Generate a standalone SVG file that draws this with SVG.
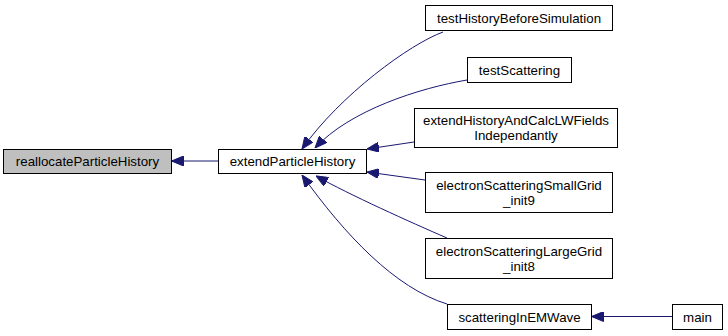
<svg xmlns="http://www.w3.org/2000/svg" width="728" height="336" viewBox="0 0 728 336">
  <defs>
    <style>
      .box { fill: #ffffff; stroke: #000000; stroke-width: 1; }
      .box.current { fill: #bfbfbf; }
      .label { font-family: "Liberation Sans", Arial, Helvetica, sans-serif; font-size: 13.3px; fill: #000000; text-anchor: middle; }
      .edge { fill: none; stroke: #191970; stroke-width: 1; marker-end: url(#arrow); }
    </style>
    <marker id="arrow" viewBox="0 0 12 10" refX="12" refY="5" markerWidth="12" markerHeight="10" markerUnits="userSpaceOnUse" orient="auto">
      <path d="M0,0 L12,5 L0,10 Z" fill="#191970" stroke="#191970" stroke-width="1"/>
    </marker>
  </defs>
  <rect width="728" height="336" fill="#ffffff"/>

  <g id="edges">
    <path class="edge" d="M218,161 L171.5,161"/>
    <path class="edge" d="M443,32 C410,44 340,95 302,149"/>
    <path class="edge" d="M467,80 C420,88 350,110 315,148"/>
    <path class="edge" d="M414,142 L367,149"/>
    <path class="edge" d="M425,180 L367,172"/>
    <path class="edge" d="M447,238 C410,222 350,195 316,176"/>
    <path class="edge" d="M447,304 C395,288 345,235 302,175"/>
    <path class="edge" d="M672,316.5 L591.5,316.5"/>
  </g>

  <g id="node-reallocateParticleHistory">
    <rect class="box current" x="3.5" y="149.5" width="168" height="24"/>
    <text class="label" x="87.5" y="166">reallocateParticleHistory</text>
  </g>
  <g id="node-extendParticleHistory">
    <rect class="box" x="218.5" y="149.5" width="148" height="24"/>
    <text class="label" x="292.5" y="166">extendParticleHistory</text>
  </g>
  <g id="node-testHistoryBeforeSimulation">
    <rect class="box" x="425.5" y="5.5" width="187" height="25"/>
    <text class="label" x="519" y="22.5">testHistoryBeforeSimulation</text>
  </g>
  <g id="node-testScattering">
    <rect class="box" x="467.5" y="57.5" width="104" height="25"/>
    <text class="label" x="519.5" y="74.5">testScattering</text>
  </g>
  <g id="node-extendHistoryAndCalcLWFieldsIndependantly">
    <rect class="box" x="414.5" y="108.5" width="203" height="39"/>
    <text class="label" x="516" y="125">extendHistoryAndCalcLWFields</text>
    <text class="label" x="516" y="140">Independantly</text>
  </g>
  <g id="node-electronScatteringSmallGrid_init9">
    <rect class="box" x="425.5" y="172.5" width="187" height="40"/>
    <text class="label" x="519" y="189.5">electronScatteringSmallGrid</text>
    <text class="label" x="519" y="204.5">_init9</text>
  </g>
  <g id="node-electronScatteringLargeGrid_init8">
    <rect class="box" x="425.5" y="238.5" width="187" height="40"/>
    <text class="label" x="519" y="256">electronScatteringLargeGrid</text>
    <text class="label" x="519" y="271">_init8</text>
  </g>
  <g id="node-scatteringInEMWave">
    <rect class="box" x="447.5" y="304.5" width="144" height="25"/>
    <text class="label" x="519.5" y="321.5">scatteringInEMWave</text>
  </g>
  <g id="node-main">
    <rect class="box" x="672.5" y="304.5" width="50" height="25"/>
    <text class="label" x="697.5" y="321.5">main</text>
  </g>
</svg>
